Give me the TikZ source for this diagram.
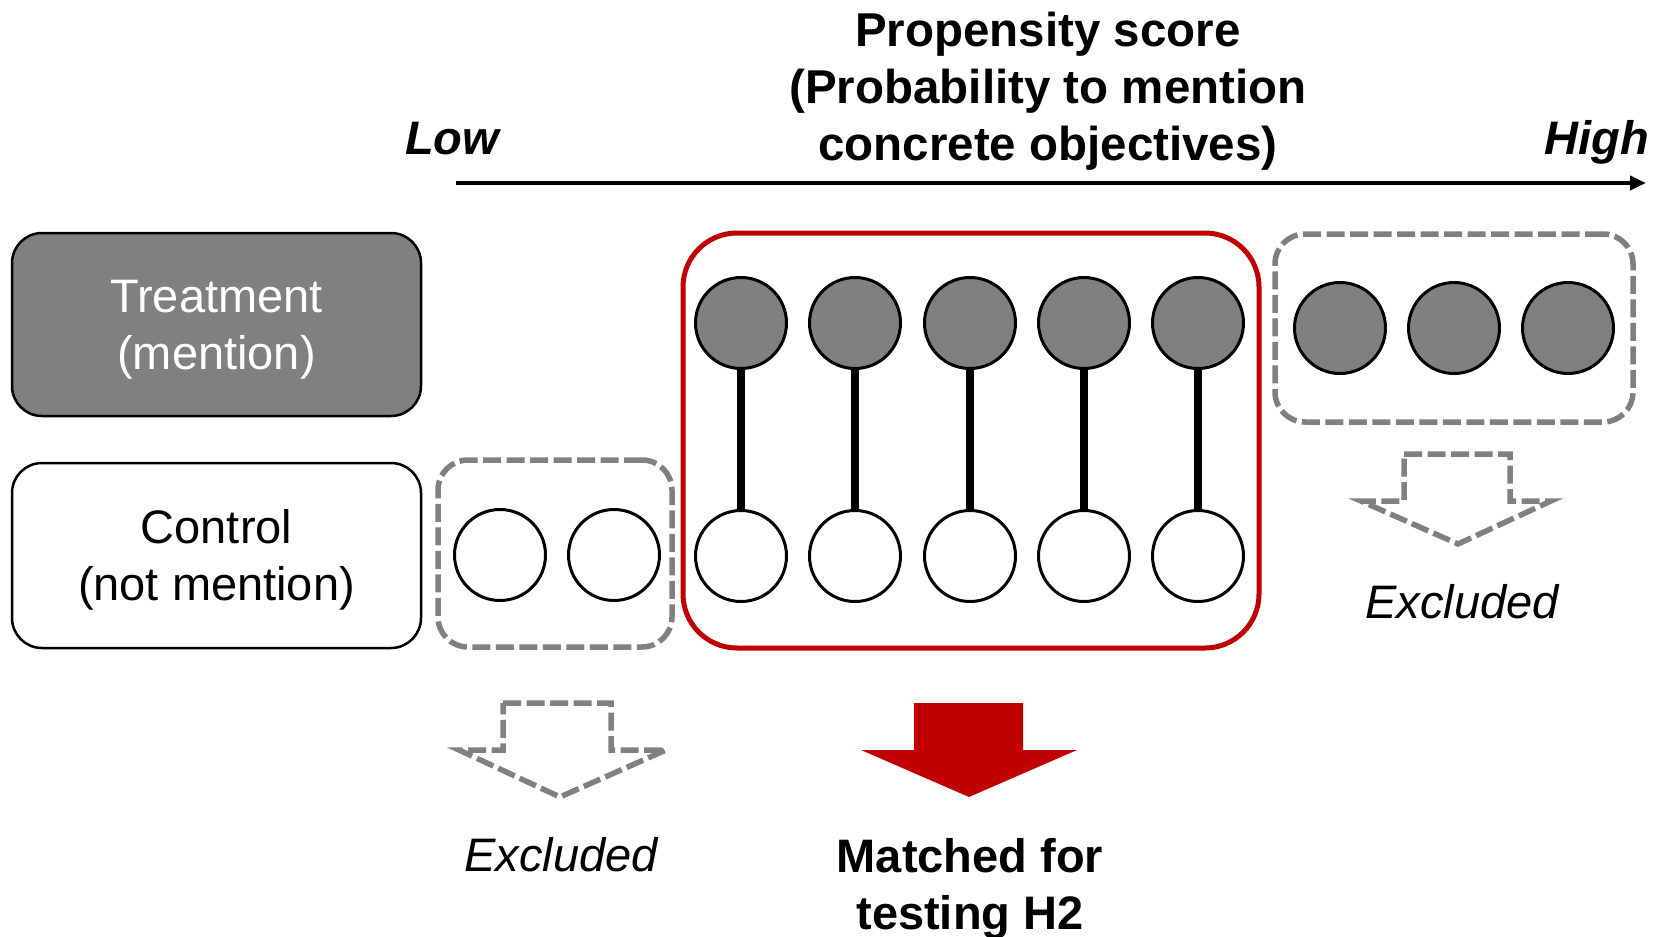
\documentclass[tikz,border=0pt]{standalone}
\usepackage{fontspec}
\setmainfont{Liberation Sans}
\usetikzlibrary{arrows.meta}
\definecolor{pgray}{HTML}{808080}
\definecolor{pred}{HTML}{C00000}
\begin{document}
\begin{tikzpicture}[x=1pt,y=-1pt,
  txt/.style={font=\fontsize{47}{57}\selectfont, inner sep=0pt, align=center},
  grp/.style={draw=black, line width=2.5pt, rounded corners=30pt, minimum width=409pt, inner sep=0pt},
  circT/.style={circle, draw=black, line width=3pt, fill=pgray, minimum size=91pt, inner sep=0pt},
  circC/.style={circle, draw=black, line width=3pt, fill=white, minimum size=91pt, inner sep=0pt},
  dbox/.style={draw=pgray, line width=5.5pt, dash pattern=on 18pt off 5.5pt, rounded corners=30pt, inner sep=0pt},
  hollow/.style={draw=pgray, line width=5.5pt, dash pattern=on 18pt off 5.5pt, line join=miter},
  pair/.style={draw=black, line width=8pt}
]
\useasboundingbox (0,0) rectangle (1663,937);

% title and axis
\node[txt, font=\bfseries\fontsize{47.5}{57}\selectfont, anchor=north] (title) at (1048,12)
  {Propensity score\\(Probability to mention\\concrete objectives)};
\node[txt, font=\bfseries\itshape\fontsize{47}{57}\selectfont, anchor=base west] (low) at (405,154) {Low};
\node[txt, font=\bfseries\itshape\fontsize{47}{57}\selectfont, anchor=base east] (high) at (1649,154) {High};
\coordinate (axs) at (456,183);
\coordinate (axe) at (1646,183);
\draw[line width=4.5pt, -{Triangle[length=16pt,width=14pt]}] (axs) -- (axe);

% group boxes
\node[grp, fill=pgray, minimum height=183pt] (treat) at (216.5,324.5) {};
\node[txt, text=white] (treatT) at ([yshift=-5pt]treat.center) {Treatment\\(mention)};
\node[grp, fill=white, minimum height=185pt] (ctrl) at (216.5,555.5) {};
\node[txt] (ctrlT) at ([yshift=-4pt]ctrl.center) {Control\\(not mention)};

% excluded boxes
\node[dbox, minimum width=234pt, minimum height=187pt] (exL) at (555,553.5) {};
\node[dbox, minimum width=358pt, minimum height=188pt] (exR) at (1454,328) {};
\node[draw=pred, line width=5pt, rounded corners=54pt, minimum width=576pt, minimum height=415pt, inner sep=0pt] (match) at (971,440.5) {};

% excluded circles
\node[circC] (l1) at (500,555) {};
\node[circC] (l2) at (614,555) {};
\node[circT] (r1) at (1340,328) {};
\node[circT] (r2) at (1454,328) {};
\node[circT] (r3) at (1568,328) {};

% matched pairs
\foreach \i/\x in {1/741,2/855,3/970,4/1084,5/1198}{
  \node[circT] (t\i) at (\x,323) {};
  \node[circC] (c\i) at (\x,556) {};
  \draw[pair] (t\i) -- (c\i);
}

% arrows
\draw[hollow] (503,703) -- (611,703) -- (611,750) -- (666,750) -- (560,797) -- (459,750) -- (503,750) -- cycle;
\draw[hollow] (1404,454) -- (1510,454) -- (1510,501) -- (1551,501) -- (1458,544) -- (1361,501) -- (1404,501) -- cycle;
\fill[pred] (914,703) -- (1023,703) -- (1023,750) -- (1077,750) -- (969,797) -- (861,750) -- (914,750) -- cycle;

% labels
\node[txt, font=\itshape\fontsize{47}{57}\selectfont, anchor=base] (excl1) at (561,871) {Excluded};
\node[txt, font=\itshape\fontsize{47}{57}\selectfont, anchor=base] (excl2) at (1462,618) {Excluded};
\node[txt, font=\bfseries\fontsize{47}{57}\selectfont, anchor=north] (mlab) at (970,838) {Matched for\\testing H2};
\end{tikzpicture}
\end{document}
